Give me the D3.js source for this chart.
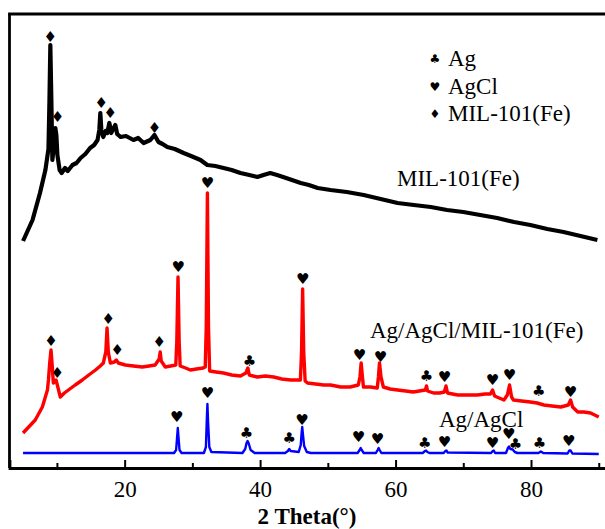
<!DOCTYPE html>
<html>
<head>
<meta charset="utf-8">
<script src="https://cdn.jsdelivr.net/npm/d3@7"></script>
<style>
  body { margin: 0; background: #fff; }
  text { font-family: "Liberation Serif", "Times New Roman", serif; }
</style>
</head>
<body>
<div id="chart"></div>
<script>
// 2 theta (deg), intensity (a.u., offset traces)
var milData = [
  [5.0,226],[6.4,247],[7.5,274],[8.3,297],[8.75,318],[8.9,367],[9.03,422],[9.18,367],[9.33,307],
  [9.48,317],[9.77,339],[9.92,332],[10.07,312],[10.4,297],[10.7,294],[11.2,299],[11.6,296],
  [12.3,302],[12.9,304],[13.5,309],[14.2,313],[14.9,319],[15.5,322],[16.0,327],[16.26,337],
  [16.41,354],[16.56,337],[16.85,330],[17.2,336],[17.44,334],[17.74,344],[18.03,334],[18.3,338],
  [18.62,342],[18.9,333],[19.4,330],[20.2,331],[21.3,327],[22.0,329],[22.8,324],[23.8,327],
  [24.4,332],[25.0,325],[25.6,323],[26.3,320],[27.4,318],[28.7,314],[29.8,311],[31.2,307],
  [32.2,302],[33.4,301],[34.6,299],[35.8,297],[37.1,294],[38.4,292],[39.6,290],[40.5,292],
  [41.5,294],[42.5,292],[43.4,290],[44.7,287],[46.0,284],[47.2,282],[48.5,279],[50.4,277],
  [52.8,275],[55.3,272],[57.8,268],[60.3,264],[62.7,262],[65.2,260],[67.6,257],[70.0,255],
  [72.5,252],[75.0,249],[77.5,245],[79.9,242],[82.4,238],[84.8,235],[87.3,231],[89.8,227]
];

var compositeData = [
  [5.0,34],[6.8,47],[7.85,60],[8.6,77],[8.75,87],[8.95,105],[9.13,117],[9.32,100],[9.47,84],
  [9.87,87],[10.06,82],[10.5,70],[11.1,74],[11.7,77],[12.7,82],[13.75,87],[14.7,92],[15.7,97],
  [16.4,101],[16.85,104],[17.22,115],[17.4,139],[17.59,115],[17.89,104],[18.48,105],[18.77,107],
  [19.07,104],[20.1,102],[21.3,101],[22.6,100],[23.6,101],[24.5,102],[25.1,108],[25.25,115],
  [25.4,106],[26.0,100],[26.8,101],[27.55,102],[27.7,125],[27.88,190],[28.05,125],[28.2,101],
  [29.0,99],[29.7,97],[30.6,98],[31.6,99],[31.9,100],[32.05,140],[32.22,274],[32.38,140],
  [32.55,96],[33.5,95],[34.6,94],[35.8,92],[37.1,91],[37.9,94],[38.2,99],[38.4,92],[39.6,90],
  [40.8,91],[42.0,90],[43.2,88],[44.5,87],[45.95,87],[46.12,115],[46.28,178],[46.44,115],
  [46.65,86],[47.0,84],[48.2,83],[49.4,82],[50.4,82],[51.9,80],[53.3,80],[54.5,82],[54.74,90],
  [54.92,104],[55.11,90],[55.26,80],[56.3,80],[57.3,79],[57.47,90],[57.63,104],[57.85,90],
  [58.2,80],[59.2,78],[60.3,77],[61.5,76],[62.6,75],[63.5,76],[64.4,77],[64.57,81],[64.72,76],
  [65.6,74],[66.5,74],[67.2,75],[67.45,81],[67.67,74],[68.4,73],[69.2,72],[70.6,72],[72.1,72],
  [73.2,73],[74.0,73],[74.32,77],[74.62,71],[75.3,69],[76.0,67],[76.5,72],[76.83,82],[77.13,70],
  [77.4,67],[78.6,66],[79.9,65],[80.9,64],[81.9,62],[83.1,61],[84.4,60],[85.5,62],[85.84,67],
  [86.14,60],[86.9,55],[87.8,55],[88.8,54],[90.0,50]
];

var agData = [
  [5.0,14],[27.3,14],[27.6,17],[27.75,30],[27.85,39],[27.95,30],[28.1,17],[28.4,14],
  [31.7,14],[32.0,20],[32.12,45],[32.22,63],[32.32,45],[32.5,20],[32.8,15],
  [37.4,14],[37.8,18],[38.0,24],[38.15,26],[38.3,24],[38.6,17],[39.2,14],
  [43.7,14],[44.1,16],[44.3,18],[44.5,16],[45.7,15],[46.0,22],[46.12,33],[46.22,40],[46.32,33],
  [46.5,21],[46.9,15],[47.5,14],
  [54.4,14],[54.7,17],[54.85,19],[55.0,17],[55.3,14],
  [57.1,14],[57.35,17],[57.5,19],[57.65,17],[57.9,14],
  [64.0,14],[64.35,16],[64.5,16.5],[64.7,15],[65.0,14],
  [67.1,14],[67.35,16],[67.5,16.5],[67.7,14.5],
  [74.1,14],[74.35,16],[74.5,16.5],[74.7,14],
  [76.3,14],[76.6,19],[76.75,20.5],[76.95,18],[77.3,17.5],[77.6,15],[78.0,14],
  [81.1,14],[81.45,15.5],[81.8,14],
  [85.4,13.5],[85.65,16.5],[85.85,16.5],[86.1,13.5],[90.0,13]
];

// phase markers: symbol, 2 theta, height
var milMarks = [
  ["♦",9.03,430],["♦",10.07,350],["♦",16.56,364],["♦",17.89,354],["♦",24.39,339]
];
var compositeMarks = [
  ["♦",9.13,126],["♦",10.06,94],["♦",17.59,148],["♦",18.92,117],["♦",25.1,125],
  ["♥",27.9,200],["♥",32.22,284],["♥",46.3,188],["♥",54.67,112],["♥",57.77,110],
  ["♥",67.23,90],["♥",74.32,87],["♥",76.83,92],["♥",85.84,75],
  ["♣",38.42,106],["♣",64.57,91],["♣",81.12,76]
];
var agMarks = [
  ["♥",27.7,50],["♥",32.24,74],["♥",46.18,47],["♥",54.52,30],["♥",57.33,28],
  ["♥",67.23,25],["♥",74.32,24],["♥",76.7,33],["♥",85.55,26],
  ["♣",38.0,34],["♣",44.3,29],["♣",64.3,24],["♣",77.7,23],["♣",81.26,24]
];

var majorTicks = [20, 40, 60, 80];
var minorTicks = [10, 30, 50, 70, 90];

var legendItems = [["♣","Ag"],["♥","AgCl"],["♦","MIL-101(Fe)"]];

var width = 605, height = 529;

var svg = d3.select("#chart").append("svg")
  .attr("width", width)
  .attr("height", height);

var x = d3.scaleLinear()
  .domain([3, 92])
  .range([9.5, 9.5 + 89 * 6.773]);

var y = d3.scaleLinear()
  .domain([0, 454])
  .range([467, 13]);

var line = d3.line()
  .x(function(d) { return x(d[0]); })
  .y(function(d) { return y(d[1]); });

//traces
svg.append("path").datum(agData)
  .attr("d", line).attr("fill", "none")
  .attr("stroke", "#0000ff").attr("stroke-width", 2.4)
  .attr("stroke-linejoin", "round");

svg.append("path").datum(compositeData)
  .attr("d", line).attr("fill", "none")
  .attr("stroke", "#ff0000").attr("stroke-width", 3.4)
  .attr("stroke-linejoin", "round");

svg.append("path").datum(milData)
  .attr("d", line).attr("fill", "none")
  .attr("stroke", "#000").attr("stroke-width", 4.2)
  .attr("stroke-linejoin", "round");

//peak markers
var marks = milMarks.concat(compositeMarks, agMarks);
svg.append("g")
  .selectAll("text")
  .data(marks)
  .enter()
  .append("text")
    .attr("x", function(d) { return x(d[1]); })
    .attr("y", function(d) { return y(d[2]); })
    .attr("text-anchor", "middle")
    .attr("dominant-baseline", "central")
    .style("font-family", "DejaVu Sans")
    .style("font-size", "15px")
    .text(function(d) { return d[0]; });

//frame
var frame = svg.append("g")
  .attr("stroke", "#000").attr("stroke-width", 2.8).attr("fill", "none");
frame.append("line").attr("x1", x(3)).attr("x2", x(3)).attr("y1", 14).attr("y2", 468);
frame.append("line").attr("x1", x(3) - 1.4).attr("x2", width).attr("y1", 14).attr("y2", 14);

//x axis, ticks pointing inward
var xAxis = svg.append("g")
  .attr("transform", "translate(0,468)")
  .call(d3.axisBottom(x).tickValues(majorTicks).tickSize(-8).tickPadding(13)
    .tickFormat(d3.format("d")));
xAxis.select(".domain").attr("stroke-width", 2.8);
xAxis.selectAll(".tick line").attr("stroke-width", 2);
xAxis.selectAll(".tick text")
  .style("font-family", "Liberation Serif")
  .style("font-size", "23px")
  .attr("fill", "#000");

svg.append("g")
  .attr("transform", "translate(0,468)")
  .call(d3.axisBottom(x).tickValues(minorTicks).tickSize(-5).tickFormat(""))
  .call(function(g) { g.select(".domain").remove(); })
  .selectAll(".tick line").attr("stroke-width", 2);

//x label
svg.append("text")
  .attr("x", 307)
  .attr("y", 524)
  .attr("text-anchor", "middle")
  .style("font-size", "23px")
  .style("font-weight", "bold")
  .text("2 Theta(°)");

//trace labels
svg.append("text").attr("x", 397).attr("y", 186)
  .style("font-size", "23px").text("MIL-101(Fe)");
svg.append("text").attr("x", 370).attr("y", 338)
  .style("font-size", "23px").text("Ag/AgCl/MIL-101(Fe)");
svg.append("text").attr("x", 439).attr("y", 427)
  .style("font-size", "23px").text("Ag/AgCl");

//legend
var legend = svg.append("g")
  .selectAll("g")
  .data(legendItems)
  .enter()
  .append("g")
    .attr("transform", function(d, i) { return "translate(0," + (i * 27.5) + ")"; });
legend.append("text")
  .attr("x", 435).attr("y", 59)
  .attr("text-anchor", "middle")
  .attr("dominant-baseline", "central")
  .style("font-family", "DejaVu Sans")
  .style("font-size", "12px")
  .text(function(d) { return d[0]; });
legend.append("text")
  .attr("x", 448).attr("y", 66)
  .style("font-size", "23px")
  .text(function(d) { return d[1]; });
</script>
</body>
</html>
